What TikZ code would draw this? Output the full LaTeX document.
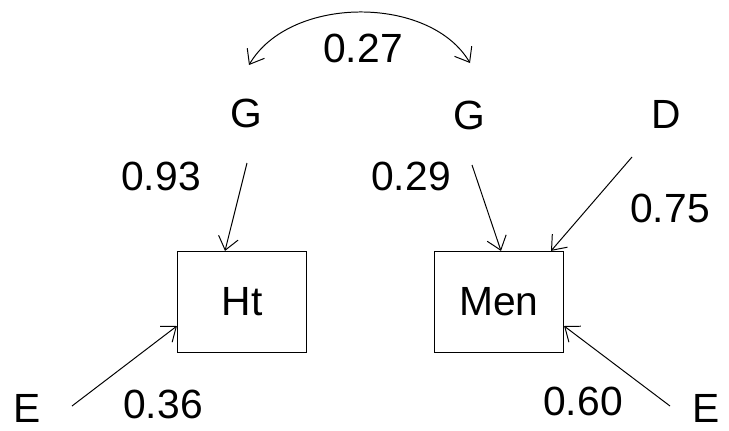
\documentclass[tikz,border=0pt]{standalone}
\usepackage{fontspec}
\setmainfont{Liberation Sans}
\usetikzlibrary{arrows.meta}
\tikzset{
        txt/.style={font=\fontsize{29}{35}\selectfont, inner sep=0pt},
        box/.style={draw, line width=0.8pt, minimum width=3.225cm, minimum height=2.525cm, font=\fontsize{29}{35}\selectfont},
        path/.style={line width=0.7pt}
    }

\begin{document}
\begin{tikzpicture}[x=0.025cm, y=-0.025cm, >={Straight Barb[length=0.32cm, width=0.5cm]}]
            \useasboundingbox (0, 0) rectangle (729, 430);

            \node [txt] (gl) at (246, 113) {G};
            \node [txt] (gm) at (469, 115) {G};
            \node [txt] (d)  at (666, 114) {D};
            \node [txt] (el) at (27, 408)  {E};
            \node [txt] (er) at (706, 408) {E};

            \node [box] (ht)  at (242, 302) {Ht};
            \node [box] (men) at (499, 302) {Men};

            \node [txt] (r)   at (363, 48)  {0.27};
            \node [txt] (hg)  at (161, 176) {0.93};
            \node [txt] (mg)  at (411, 176) {0.29};
            \node [txt] (md)  at (670, 208) {0.75};
            \node [txt] (he)  at (163, 404) {0.36};
            \node [txt] (me)  at (583, 401) {0.60};

            \draw [path, <->] ([shift={(3, -48)}]gl.center) .. controls +(41, -70) and +(-40, -68) .. ([shift={(1, -52)}]gm.center);
            \draw [path, ->] ([shift={(1, 50)}]gl.center) -- ([shift={(-17, 0)}]ht.north);
            \draw [path, ->] ([shift={(3, 50)}]gm.center) -- ([shift={(2, 0)}]men.north);
            \draw [path, ->] ([shift={(-34, 43)}]d.center) -- ([shift={(52, 0)}]men.north);
            \draw [path, ->] ([shift={(45, -2)}]el.center) -- ([shift={(0, 24)}]ht.west);
            \draw [path, ->] ([shift={(-36, -2)}]er.center) -- ([shift={(0, 24)}]men.east);
        \end{tikzpicture}
\end{document}
